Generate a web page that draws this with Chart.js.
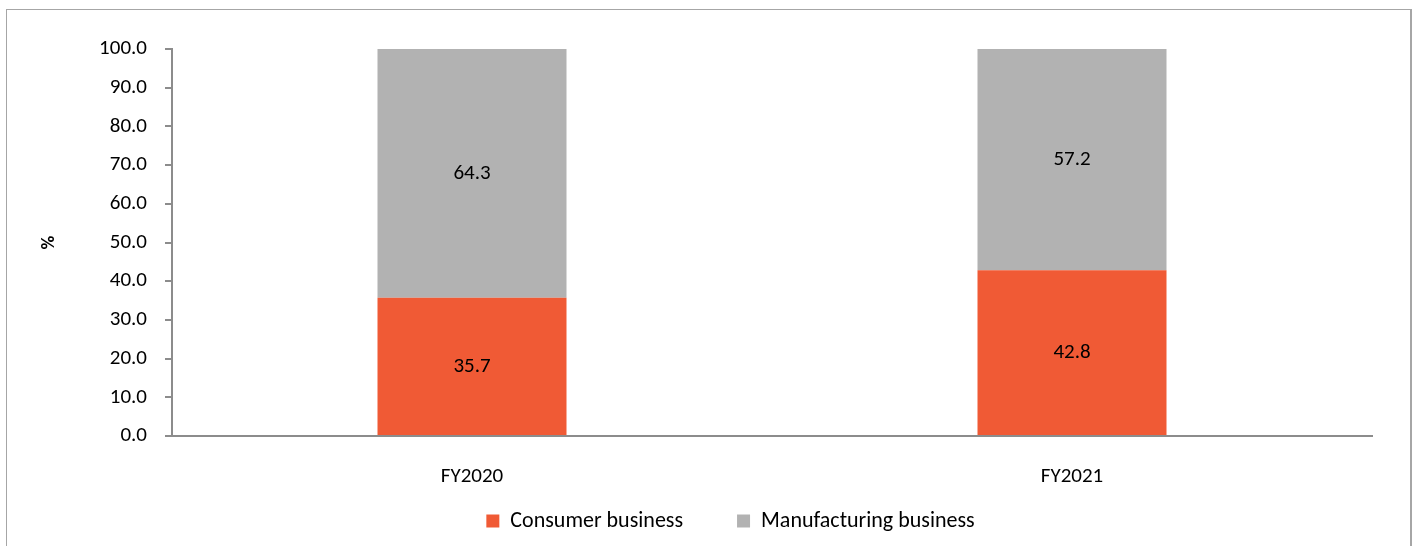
<!DOCTYPE html>
<html>
<head>
<meta charset="utf-8">
<script src="https://cdn.jsdelivr.net/npm/chart.js@4.4.0/dist/chart.umd.min.js"></script>
<style>
  html, body { margin: 0; padding: 0; background: #fff; }
  #wrap { position: relative; width: 1413px; height: 546px; overflow: hidden; }
  #frame { position: absolute; left: 6px; top: 9px; width: 1403px; height: 600px; border: 1px solid #a6a6a6; border-right-width: 2px; }
  #chartBox { position: absolute; left: 0; top: 0; width: 1413px; height: 546px; }
</style>
</head>
<body>
<div id="wrap">
  <div id="frame"></div>
  <div id="chartBox"><canvas id="shareChart"></canvas></div>
</div>
<script>
// Revenue mix by business, FY2020 vs FY2021 (100% stacked bars)
const years = ['FY2020', 'FY2021'];
const consumer = [35.7, 42.8];
const manufacturing = [64.3, 57.2];
const yTicks = [0, 10, 20, 30, 40, 50, 60, 70, 80, 90, 100];

const FONT = "Carlito, Lato, 'Open Sans', sans-serif";
const FS = 21;

// write the value in the middle of every bar segment
const barLabels = {
    id: 'barLabels',
    afterDatasetsDraw(chart) {
        const ctx = chart.ctx;
        ctx.save();
        ctx.font = FS + 'px ' + FONT;
        ctx.fillStyle = '#000';
        ctx.textAlign = 'center';
        ctx.textBaseline = 'middle';
        chart.data.datasets.forEach(function (ds, i) {
            chart.getDatasetMeta(i).data.forEach(function (bar, j) {
                const mid = (bar.y + bar.base) / 2;
                ctx.fillText(ds.data[j].toFixed(1), bar.x, mid);
            });
        });
        ctx.restore();
    }
};

new Chart(document.getElementById('shareChart'), {
    type: 'bar',
    data: {
        labels: years,
        datasets: [
            {
                label: 'Consumer business',
                data: consumer,
                backgroundColor: '#f05a35',
                categoryPercentage: 1,
                barPercentage: 0.315
            },
            {
                label: 'Manufacturing business',
                data: manufacturing,
                backgroundColor: '#b2b2b2',
                categoryPercentage: 1,
                barPercentage: 0.315
            }
        ]
    },
    options: {
        responsive: true,
        maintainAspectRatio: false,
        animation: false,
        // left padding is wide so the legend sits where the original one does
        layout: { padding: { left: 89, right: 41, top: 49, bottom: 4 } },
        plugins: {
            tooltip: { enabled: false },
            legend: {
                position: 'bottom',
                labels: {
                    font: { family: FONT, size: 22 },
                    color: '#000',
                    boxWidth: 13,
                    boxHeight: 13,
                    padding: 10,
                    // widen the gap between the two entries without a tall legend
                    generateLabels: function (chart) {
                        const items = Chart.defaults.plugins.legend.labels.generateLabels(chart);
                        items.forEach(function (it, i) {
                            if (i < items.length - 1) it.text += '\u2003\u2003';
                        });
                        return items;
                    }
                }
            }
        },
        scales: {
            x: {
                stacked: true,
                grid: { display: false },
                border: { color: '#8c8c8c', width: 2 },
                ticks: {
                    font: { family: FONT, size: FS },
                    color: '#000',
                    padding: 20
                },
                afterFit: function (scale) { scale.height = 64; }
            },
            y: {
                stacked: true,
                min: 0,
                max: 100,
                afterBuildTicks: function (scale) {
                    scale.ticks = yTicks.map(function (v) { return { value: v }; });
                },
                afterFit: function (scale) { scale.width = 83; },
                title: {
                    display: true,
                    text: '%',
                    font: { family: FONT, size: 19, weight: 'bold' },
                    color: '#000',
                    padding: { top: -51, bottom: 0 }
                },
                grid: {
                    drawOnChartArea: false,
                    tickLength: 7,
                    color: '#8c8c8c',
                    lineWidth: 2
                },
                border: { color: '#8c8c8c', width: 2 },
                ticks: {
                    font: { family: FONT, size: FS },
                    color: '#000',
                    padding: 18,
                    callback: function (v) { return v.toFixed(1); }
                }
            }
        }
    },
    plugins: [barLabels]
});
</script>
</body>
</html>
